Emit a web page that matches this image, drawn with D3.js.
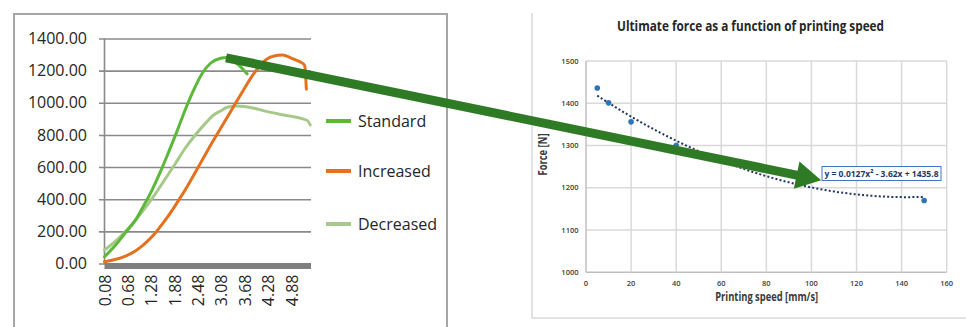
<!DOCTYPE html>
<html>
<head>
<meta charset="utf-8">
<script src="https://cdn.jsdelivr.net/npm/d3@7"></script>
<style>
  html, body { margin: 0; padding: 0; background: #fff; }
  svg { display: block; }
  text { font-family: "Open Sans", "Noto Sans", sans-serif; }
</style>
</head>
<body>
<svg id="chart" width="966" height="327"></svg>
<script>
// ---- Load–displacement curves (left panel) ----
const standardX = [0.08, 0.35, 0.61, 0.87, 1.08, 1.30, 1.51, 1.72, 1.94, 2.15, 2.37, 2.59, 2.80, 3.06, 3.22, 3.35, 3.50, 3.62, 3.74];
const standardY = [42, 110, 190, 268, 357, 457, 568, 690, 822, 955, 1080, 1184, 1246, 1277, 1282, 1270, 1240, 1212, 1180];

const increasedX = [0.08, 0.30, 0.50, 0.70, 0.85, 1.00, 1.17, 1.35, 1.51, 1.70, 1.85, 2.00, 2.20, 2.54, 2.88, 3.23, 3.57, 3.92, 4.10, 4.25, 4.43, 4.65, 4.86, 5.00, 5.12, 5.21, 5.24, 5.26];
const increasedY = [11, 22, 35, 55, 75, 100, 136, 180, 229, 290, 343, 400, 478, 623, 768, 910, 1048, 1184, 1240, 1272, 1291, 1297, 1280, 1265, 1252, 1235, 1180, 1085];

const decreasedX = [0.08, 0.35, 0.61, 0.87, 1.12, 1.38, 1.64, 1.90, 2.15, 2.41, 2.67, 2.88, 3.06, 3.23, 3.49, 3.92, 4.26, 4.69, 5.12, 5.29, 5.36];
const decreasedY = [84, 136, 198, 268, 345, 432, 527, 622, 717, 800, 872, 924, 949, 972, 980, 966, 945, 924, 903, 889, 862];

const seriesNames = ["Standard", "Increased", "Decreased"];
const seriesColors = ["#5bb83a", "#e5711f", "#a6c98a"];

const leftYTicks = [0, 200, 400, 600, 800, 1000, 1200, 1400];
const leftXTicks = [0.08, 0.68, 1.28, 1.88, 2.48, 3.08, 3.68, 4.28, 4.88];

// ---- Ultimate force vs printing speed (right panel) ----
const speed = [5, 10, 20, 40, 150];
const force = [1436, 1401, 1356, 1300, 1170];
const trendCoef = [0.0127, -3.62, 1435.8];   // a·x² + b·x + c
const trendLabel = "y = 0.0127x² - 3.62x + 1435.8";
const rightXTicks = [0, 20, 40, 60, 80, 100, 120, 140, 160];
const rightYTicks = [1000, 1100, 1200, 1300, 1400, 1500];

const svg = d3.select("#chart");

// ================= Left panel =================
const left = svg.append("g");
left.append("path")
  .attr("d", "M14,340 V14 H447 V340")
  .attr("fill", "none").attr("stroke", "#a6a6a6").attr("stroke-width", 2);

const xL = d3.scaleLinear().domain([0.08, 5.38]).range([104.5, 311]);
const yL = d3.scaleLinear().domain([0, 1400]).range([263.5, 38.5]);

// horizontal gridlines with value labels
const yAxisL = left.append("g")
  .attr("transform", "translate(99,0)")
  .call(d3.axisLeft(yL).tickValues(leftYTicks).tickFormat(d3.format(".2f"))
    .tickSize(-212).tickPadding(12));
yAxisL.select(".domain").remove();
yAxisL.selectAll(".tick line").attr("stroke", "#8a8a8a").attr("stroke-width", 1.6);
yAxisL.selectAll(".tick text")
  .attr("font-size", 16).attr("fill", "#262626")
  .style("font-family", "'Open Sans', sans-serif");

// vertical axis line
left.append("line")
  .attr("x1", xL(0.08)).attr("x2", xL(0.08))
  .attr("y1", yL(1400)).attr("y2", yL(0))
  .attr("stroke", "#8a8a8a").attr("stroke-width", 1.6);

// category axis floor
left.append("rect")
  .attr("x", xL(0.08)).attr("y", yL(0) - 0.5)
  .attr("width", xL(5.38) - xL(0.08)).attr("height", 6)
  .attr("fill", "#7f7f7f");

const xAxisL = left.append("g")
  .attr("transform", `translate(0,${yL(0) + 11})`)
  .call(d3.axisBottom(xL).tickValues(leftXTicks).tickFormat(d3.format(".2f")).tickSize(0));
xAxisL.select(".domain").remove();
xAxisL.selectAll(".tick text")
  .attr("font-size", 16).attr("fill", "#262626")
  .attr("text-anchor", "end")
  .attr("transform", "rotate(-90)")
  .attr("x", 0).attr("y", 0).attr("dx", 0).attr("dy", "0.35em")
  .style("font-family", "'Open Sans', sans-serif");

const curveData = [
  d3.zip(standardX, standardY),
  d3.zip(increasedX, increasedY),
  d3.zip(decreasedX, decreasedY)
];
const lineL = d3.line().x(d => xL(d[0])).y(d => yL(d[1])).curve(d3.curveMonotoneX);

// draw decreased first, then standard, then increased on top
[2, 0, 1].forEach(i => {
  left.append("path")
    .attr("d", lineL(curveData[i]))
    .attr("fill", "none")
    .attr("stroke", seriesColors[i])
    .attr("stroke-width", 3)
    .attr("stroke-linejoin", "round")
    .attr("stroke-linecap", "round");
});

// legend
const legendY = [121, 171, 224];
seriesNames.forEach((name, i) => {
  left.append("line")
    .attr("x1", 326).attr("x2", 351)
    .attr("y1", legendY[i]).attr("y2", legendY[i])
    .attr("stroke", seriesColors[i]).attr("stroke-width", 4);
  left.append("text")
    .attr("x", 358).attr("y", legendY[i]).attr("dy", "0.35em")
    .attr("font-size", 16).attr("fill", "#262626")
    .text(name);
});

// ================= Right panel =================
const right = svg.append("g");
right.append("path")
  .attr("d", "M532,13 V318 H970")
  .attr("fill", "none").attr("stroke", "#d9d9d9").attr("stroke-width", 1.5);

const xR = d3.scaleLinear().domain([0, 160]).range([586, 946.7]);
const yR = d3.scaleLinear().domain([1000, 1500]).range([272.3, 61]);

right.append("text")
  .attr("x", 750.5).attr("y", 26).attr("dy", "0.35em")
  .attr("text-anchor", "middle")
  .attr("font-size", 13.5).attr("font-weight", 700).attr("fill", "#262626")
  .attr("textLength", 267).attr("lengthAdjust", "spacingAndGlyphs")
  .text("Ultimate force as a function of printing speed");

// gridlines
right.append("g").selectAll("line").data(rightYTicks).join("line")
  .attr("x1", xR(0)).attr("x2", xR(160))
  .attr("y1", d => yR(d)).attr("y2", d => yR(d))
  .attr("stroke", d => d === 1000 ? "#bfbfbf" : "#d9d9d9").attr("stroke-width", 1.5);
right.append("g").selectAll("line").data(rightXTicks).join("line")
  .attr("x1", d => xR(d)).attr("x2", d => xR(d))
  .attr("y1", yR(1000)).attr("y2", yR(1500))
  .attr("stroke", d => d === 0 ? "#bfbfbf" : "#d9d9d9").attr("stroke-width", 1.5);

// tick labels
right.append("g").selectAll("text").data(rightYTicks).join("text")
  .attr("x", 578.5).attr("y", d => yR(d)).attr("dy", "0.35em")
  .attr("text-anchor", "end")
  .attr("font-size", 7.5).attr("font-weight", 600).attr("fill", "#404040")
  .text(d => d);
right.append("g").selectAll("text").data(rightXTicks).join("text")
  .attr("x", d => xR(d)).attr("y", 283).attr("dy", "0.35em")
  .attr("text-anchor", "middle")
  .attr("font-size", 7.5).attr("font-weight", 600).attr("fill", "#404040")
  .text(d => d);

// axis titles
right.append("text")
  .attr("x", 766.7).attr("y", 297).attr("dy", "0.35em")
  .attr("text-anchor", "middle")
  .attr("font-size", 12).attr("font-weight", 700).attr("fill", "#3a3a3a")
  .attr("textLength", 103).attr("lengthAdjust", "spacingAndGlyphs")
  .text("Printing speed [mm/s]");
right.append("text")
  .attr("transform", "translate(543,154.5) rotate(-90)")
  .attr("dy", "0.35em")
  .attr("text-anchor", "middle")
  .attr("font-size", 11.5).attr("font-weight", 700).attr("fill", "#3a3a3a")
  .attr("textLength", 42).attr("lengthAdjust", "spacingAndGlyphs")
  .text("Force [N]");

// polynomial trendline
const trendFn = x => trendCoef[0] * x * x + trendCoef[1] * x + trendCoef[2];
const trendPts = d3.range(speed[0], speed[speed.length - 1] + 0.5, 1).map(x => [x, trendFn(x)]);
right.append("path")
  .attr("d", d3.line().x(d => xR(d[0])).y(d => yR(d[1]))(trendPts))
  .attr("fill", "none")
  .attr("stroke", "#1f3864")
  .attr("stroke-width", 2)
  .attr("stroke-dasharray", "2,2.2");

// measured points
right.append("g").selectAll("circle").data(d3.zip(speed, force)).join("circle")
  .attr("cx", d => xR(d[0])).attr("cy", d => yR(d[1]))
  .attr("r", 2.8).attr("fill", "#2e75b6");

// equation label
right.append("rect")
  .attr("x", 822).attr("y", 166.5).attr("width", 119).attr("height", 14)
  .attr("fill", "#fff").attr("stroke", "#4472c4").attr("stroke-width", 1);
right.append("text")
  .attr("x", 824.5).attr("y", 173.5).attr("dy", "0.35em")
  .attr("font-size", 9.5).attr("font-weight", 700).attr("fill", "#1f3864")
  .attr("textLength", 114).attr("lengthAdjust", "spacingAndGlyphs")
  .text(trendLabel);

// ================= Connecting arrow =================
// from the Standard peak to the trend curve region
const arrowFrom = [xL(3.2), yL(1280)];
const arrowTo = [xR(104.3), yR(1218)];
const dx = arrowTo[0] - arrowFrom[0], dy = arrowTo[1] - arrowFrom[1];
const len = Math.hypot(dx, dy), ux = dx / len, uy = dy / len, nx = -uy, ny = ux;
const headLen = 25, headHalf = 14, shaftHalf = 4.5;
const bx = arrowTo[0] - ux * headLen, by = arrowTo[1] - uy * headLen;
const arrowPts = [
  [arrowFrom[0] + nx * shaftHalf, arrowFrom[1] + ny * shaftHalf],
  [bx + nx * shaftHalf, by + ny * shaftHalf],
  [bx + nx * headHalf, by + ny * headHalf],
  arrowTo,
  [bx - nx * headHalf, by - ny * headHalf],
  [bx - nx * shaftHalf, by - ny * shaftHalf],
  [arrowFrom[0] - nx * shaftHalf, arrowFrom[1] - ny * shaftHalf]
];
svg.append("polygon")
  .attr("points", arrowPts.map(p => p.join(",")).join(" "))
  .attr("fill", "#2f7b25");
</script>
</body>
</html>
